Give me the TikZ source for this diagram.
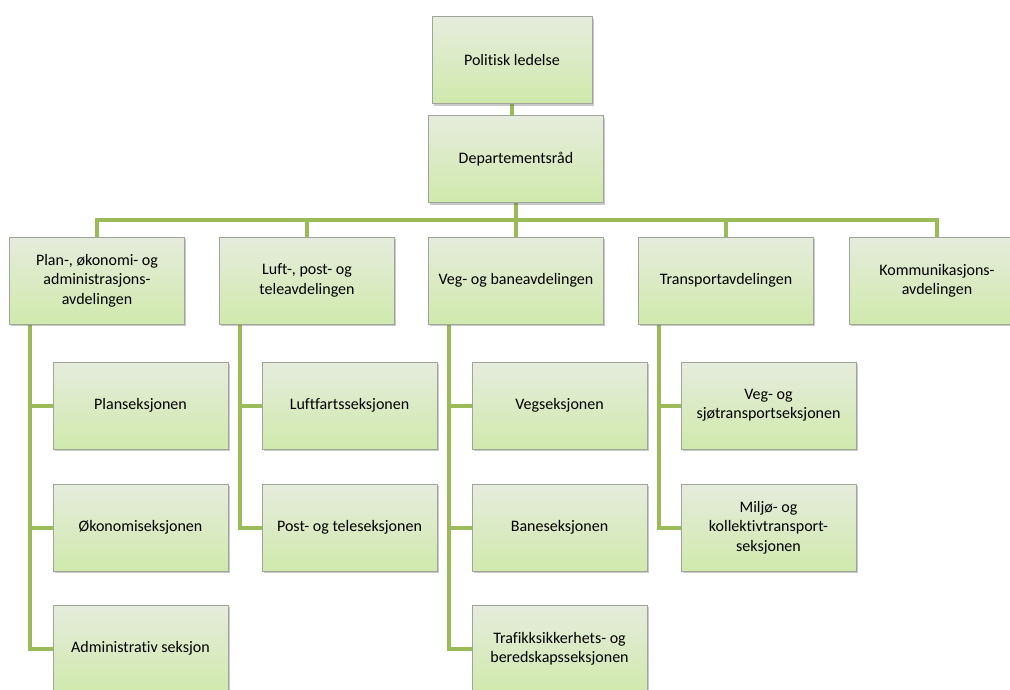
\documentclass[tikz,border=0pt]{standalone}
\usepackage{fontspec}
\setmainfont[Ligatures={NoCommon}]{Carlito}
\usetikzlibrary{shadows,backgrounds}

\definecolor{boxtop}{RGB}{230,236,221}
\definecolor{boxbot}{RGB}{208,233,172}
\definecolor{boxline}{RGB}{160,165,155}
\definecolor{linkgreen}{RGB}{155,187,89}

\tikzset{
  unit/.style={draw=boxline, line width=0.6pt, top color=boxtop, bottom color=boxbot,
    minimum width=131.25pt, minimum height=65.25pt, align=center, inner sep=2pt,
    font=\fontsize{12}{14.5}\selectfont,
    drop shadow={shadow xshift=1.2pt, shadow yshift=-1.5pt, opacity=0.3, fill=black!70}},
  link/.style={draw=linkgreen, line width=3pt}
}

\begin{document}
\begin{tikzpicture}[x=0.75pt, y=-0.75pt]
  \useasboundingbox (0,0) rectangle (1010,689);
  \node[unit, minimum width=120pt] (pol) at (512,60) {Politisk ledelse};
  \node[unit] (dep) at (516,159) {Departementsråd};

  \node[unit] (plan) at (97,280.5) {Plan-, økonomi- og\\administrasjons-\\avdelingen};
  \node[unit] (luft) at (307,280.5) {Luft-, post- og\\teleavdelingen};
  \node[unit] (veg) at (516,280.5) {Veg- og baneavdelingen};
  \node[unit] (transp) at (726,280.5) {Transportavdelingen};
  \node[unit] (komm) at (937,280.5) {Kommunikasjons-\\avdelingen};

  \node[unit] (planA) at (140.5,405.5) {Planseksjonen};
  \node[unit] (planB) at (140.5,527.5) {Økonomiseksjonen};
  \node[unit] (planC) at (140.5,648.5) {Administrativ seksjon};
  \node[unit] (luftA) at (349.5,405.5) {Luftfartsseksjonen};
  \node[unit] (luftB) at (349.5,527.5) {Post- og teleseksjonen};
  \node[unit] (vegA) at (559.5,405.5) {Vegseksjonen};
  \node[unit] (vegB) at (559.5,527.5) {Baneseksjonen};
  \node[unit] (vegC) at (559.5,648.5) {Trafikksikkerhets- og\\beredskapsseksjonen};
  \node[unit] (transpA) at (768.5,405.5) {Veg- og\\sjøtransportseksjonen};
  \node[unit] (transpB) at (768.5,527.5) {Miljø- og\\kollektivtransport-\\seksjonen};

  \coordinate (bus) at (516,220);
  \begin{scope}[on background layer]
    \draw[link] (pol.south) -- (pol.south |- dep.north);
    \draw[link] (dep.south) -- (bus);
    \foreach \d in {plan,luft,veg,transp,komm}
      \draw[link] (bus) -| (\d.north);
    \foreach \d/\s in {plan/planA,plan/planB,plan/planC,luft/luftA,luft/luftB,
                       veg/vegA,veg/vegB,veg/vegC,transp/transpA,transp/transpB}
      \draw[link] ([xshift=15.5pt]\d.south west) |- (\s.west);
  \end{scope}
\end{tikzpicture}
\end{document}
